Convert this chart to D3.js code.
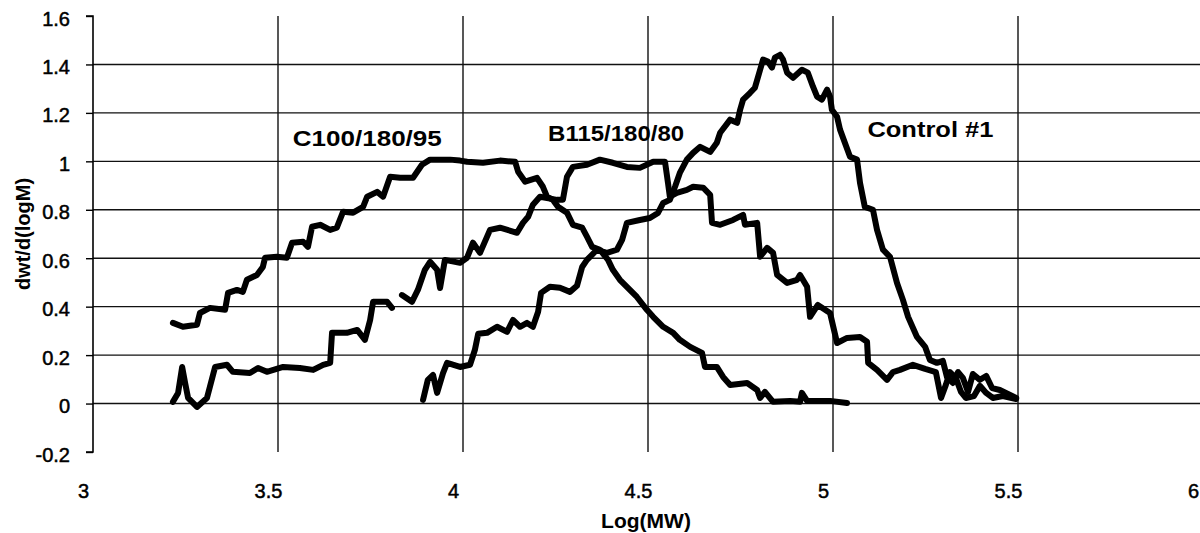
<!DOCTYPE html>
<html>
<head>
<meta charset="utf-8">
<script src="https://cdn.jsdelivr.net/npm/d3@7"></script>
<style>
  html, body { margin: 0; padding: 0; background: #fff; }
  svg { display: block; }
  text { font-family: "Liberation Sans", Arial, sans-serif; fill: #000; }
</style>
</head>
<body>
<svg id="chart" width="1200" height="533"></svg>
<script>
// Molecular weight distributions: [log(MW), dwt/d(logM)]
const c100 = [
  [3.216,0.333],[3.243,0.317],[3.281,0.325],[3.289,0.374],[3.316,0.395],[3.357,0.387],
  [3.365,0.457],[3.389,0.469],[3.405,0.461],[3.416,0.511],[3.443,0.531],[3.459,0.564],
  [3.465,0.602],[3.497,0.606],[3.524,0.602],[3.538,0.664],[3.568,0.668],[3.581,0.647],
  [3.592,0.730],[3.614,0.738],[3.641,0.717],[3.659,0.726],[3.676,0.792],[3.703,0.788],
  [3.730,0.812],[3.741,0.854],[3.768,0.874],[3.784,0.854],[3.803,0.936],[3.830,0.932],
  [3.865,0.932],[3.889,0.986],[3.911,1.007],[3.938,1.007],[3.965,1.007],[3.992,1.003],
  [4.011,0.998],[4.054,0.994],[4.100,1.003],[4.141,0.998],[4.149,0.957],[4.168,0.916],
  [4.200,0.932],[4.216,0.895],[4.227,0.854],[4.243,0.841],[4.257,0.812],[4.281,0.788],
  [4.297,0.738],[4.322,0.726],[4.335,0.689],[4.349,0.647],[4.370,0.635],[4.392,0.593],
  [4.405,0.552],[4.424,0.511],[4.451,0.469],[4.470,0.440],[4.497,0.387],[4.514,0.358],
  [4.541,0.317],[4.568,0.292],[4.586,0.263],[4.614,0.234],[4.646,0.209],[4.654,0.151],
  [4.686,0.151],[4.703,0.110],[4.722,0.077],[4.768,0.085],[4.795,0.056],[4.803,0.023],
  [4.816,0.048],[4.838,0.007],[4.884,0.011],[4.911,0.007],[4.916,0.044],[4.930,0.011],
  [4.992,0.011],[5.038,0.002]
];

const b115 = [
  [3.216,0.007],[3.230,0.044],[3.241,0.151],[3.249,0.085],[3.257,0.023],[3.281,-0.014],
  [3.308,0.023],[3.316,0.069],[3.330,0.151],[3.362,0.160],[3.378,0.131],[3.424,0.126],
  [3.446,0.147],[3.470,0.131],[3.514,0.151],[3.559,0.147],[3.595,0.139],[3.622,0.160],
  [3.641,0.168],[3.646,0.292],[3.686,0.292],[3.714,0.304],[3.735,0.263],[3.749,0.345],
  [3.757,0.420],[3.795,0.420],[3.808,0.395],null,
  [3.835,0.448],[3.862,0.420],[3.878,0.469],[3.897,0.552],[3.911,0.585],[3.930,0.552],
  [3.938,0.477],[3.951,0.593],[3.992,0.581],[4.011,0.602],[4.027,0.664],[4.046,0.622],
  [4.073,0.717],[4.100,0.726],[4.146,0.705],[4.162,0.746],[4.176,0.771],[4.189,0.821],
  [4.208,0.854],[4.254,0.841],[4.270,0.841],[4.281,0.936],[4.297,0.977],[4.335,0.986],
  [4.370,1.007],[4.405,0.994],[4.443,0.977],[4.478,0.973],[4.514,0.998],[4.546,0.998],
  [4.554,0.911],[4.559,0.854],[4.578,0.870],[4.605,0.882],[4.622,0.895],[4.649,0.891],
  [4.668,0.862],[4.673,0.746],[4.695,0.738],[4.730,0.758],[4.757,0.779],[4.762,0.738],
  [4.795,0.746],[4.803,0.606],[4.822,0.643],[4.838,0.622],[4.849,0.531],[4.876,0.498],
  [4.903,0.511],[4.911,0.531],[4.930,0.482],[4.938,0.358],[4.959,0.407],[4.992,0.374],
  [5.011,0.250],[5.038,0.271],[5.073,0.275],[5.092,0.255],[5.095,0.168],[5.119,0.139],
  [5.146,0.098],[5.162,0.130],[5.181,0.139],[5.216,0.160],[5.249,0.143],[5.278,0.130],
  [5.292,0.023],[5.305,0.077],[5.316,0.130],[5.332,0.106],[5.346,0.048],[5.359,0.023],
  [5.381,0.031],[5.397,0.073],[5.414,0.044],[5.432,0.023],[5.459,0.031],[5.495,0.019]
];

const control1 = [
  [3.892,0.015],[3.905,0.098],[3.919,0.118],[3.930,0.044],[3.946,0.126],[3.957,0.168],
  [3.992,0.151],[4.019,0.160],[4.032,0.221],[4.041,0.288],[4.065,0.292],[4.092,0.317],
  [4.119,0.296],[4.135,0.345],[4.154,0.317],[4.173,0.333],[4.189,0.317],[4.203,0.379],
  [4.211,0.457],[4.235,0.482],[4.262,0.478],[4.289,0.461],[4.308,0.486],[4.322,0.564],
  [4.335,0.593],[4.362,0.635],[4.389,0.622],[4.416,0.635],[4.430,0.676],[4.443,0.746],
  [4.478,0.758],[4.505,0.766],[4.527,0.787],[4.541,0.828],[4.559,0.841],[4.573,0.895],
  [4.586,0.952],[4.605,1.007],[4.622,1.035],[4.641,1.060],[4.668,1.039],[4.686,1.077],
  [4.695,1.118],[4.722,1.172],[4.741,1.159],[4.749,1.213],[4.757,1.255],[4.776,1.283],
  [4.789,1.304],[4.803,1.378],[4.811,1.420],[4.824,1.412],[4.835,1.387],[4.843,1.428],
  [4.857,1.440],[4.865,1.420],[4.876,1.366],[4.892,1.345],[4.916,1.378],[4.932,1.366],
  [4.946,1.308],[4.957,1.267],[4.970,1.255],[4.984,1.296],[4.992,1.267],[4.997,1.213],
  [5.011,1.184],[5.019,1.131],[5.046,1.019],[5.065,1.007],[5.073,0.911],[5.086,0.812],
  [5.108,0.800],[5.119,0.717],[5.135,0.635],[5.154,0.606],[5.173,0.498],[5.189,0.428],
  [5.203,0.358],[5.227,0.275],[5.249,0.234],[5.262,0.180],[5.281,0.168],[5.297,0.176],
  [5.308,0.110],[5.324,0.085],[5.338,0.130],[5.351,0.106],[5.365,0.048],[5.378,0.122],
  [5.397,0.098],[5.414,0.114],[5.430,0.064],[5.451,0.056],[5.473,0.040],[5.495,0.023]
];

const xTicks = [3, 3.5, 4, 4.5, 5, 5.5, 6];
const yTicks = [-0.2, 0, 0.2, 0.4, 0.6, 0.8, 1, 1.2, 1.4, 1.6];

const seriesLabels = [
  { text: "C100/180/95", at: [3.540, 1.065], width: 149 },
  { text: "B115/180/80", at: [4.230, 1.085], width: 136 },
  { text: "Control #1",  at: [5.093, 1.101], width: 126 }
];

// plain hyphen for negatives, as printed on the axis
const fmt = d => String(+(+d).toFixed(1));

const svg = d3.select("#chart");
const x = d3.scaleLinear().domain([3, 6]).range([93, 1203]);
const y = d3.scaleLinear().domain([-0.2, 1.6]).range([452, 16]);

// gridlines
const grid = svg.append("g").attr("stroke", "#111").attr("stroke-width", 1.4);
grid.selectAll("line.h")
  .data(yTicks.filter(v => v > -0.2 && v < 1.6))
  .join("line")
  .attr("x1", x(3)).attr("x2", x(6))
  .attr("y1", d => y(d)).attr("y2", d => y(d));
grid.selectAll("line.v")
  .data(xTicks.filter(v => v > 3))
  .join("line")
  .attr("x1", d => x(d)).attr("x2", d => x(d))
  .attr("y1", y(1.6)).attr("y2", y(-0.2));

// y axis
const yAxis = d3.axisLeft(y).tickValues(yTicks).tickSize(7).tickPadding(16).tickFormat(fmt);
const gy = svg.append("g").attr("transform", `translate(${x(3)},0)`).call(yAxis);
gy.select(".domain").attr("stroke", "#000").attr("stroke-width", 1.6).attr("d", `M-7,${y(1.6)}H0V${y(-0.2)}H-7`);
gy.selectAll(".tick line").attr("stroke", "#000").attr("stroke-width", 1.4);
gy.selectAll(".tick text")
  .attr("font-family", "Liberation Sans, Arial, sans-serif")
  .attr("font-size", 20).attr("fill", "#000")
  .attr("stroke", "#000").attr("stroke-width", 0.5)
  .attr("dy", "0.45em");

// x axis labels (no axis line is drawn along the bottom)
const xAxis = d3.axisBottom(x).tickValues(xTicks).tickSize(0).tickPadding(0).tickFormat(fmt);
const gx = svg.append("g").attr("transform", `translate(0,${y(-0.2)})`).call(xAxis);
gx.select(".domain").remove();
gx.selectAll(".tick text")
  .attr("font-family", "Liberation Sans, Arial, sans-serif")
  .attr("font-size", 20).attr("fill", "#000")
  .attr("stroke", "#000").attr("stroke-width", 0.5)
  .attr("x", -10).attr("y", 46).attr("dy", 0);

// axis titles
svg.append("text")
  .attr("x", 646).attr("y", 528)
  .attr("text-anchor", "middle").attr("font-weight", "bold").attr("font-size", 21)
  .text("Log(MW)");
svg.append("text")
  .attr("transform", `translate(30,234) rotate(-90)`)
  .attr("text-anchor", "middle").attr("font-weight", "bold").attr("font-size", 20)
  .text("dwt/d(logM)");

// curves
const line = d3.line()
  .defined(d => d !== null)
  .x(d => x(d[0])).y(d => y(d[1]));
svg.append("g")
  .selectAll("path")
  .data([c100, b115, control1])
  .join("path")
  .attr("d", line)
  .attr("fill", "none")
  .attr("stroke", "#000")
  .attr("stroke-width", 6)
  .attr("stroke-linejoin", "round")
  .attr("stroke-linecap", "round");

// series labels
svg.append("g")
  .selectAll("text")
  .data(seriesLabels)
  .join("text")
  .attr("x", d => x(d.at[0])).attr("y", d => y(d.at[1]))
  .attr("font-weight", "bold").attr("font-size", 22)
  .attr("textLength", d => d.width).attr("lengthAdjust", "spacingAndGlyphs")
  .text(d => d.text);
</script>
</body>
</html>
